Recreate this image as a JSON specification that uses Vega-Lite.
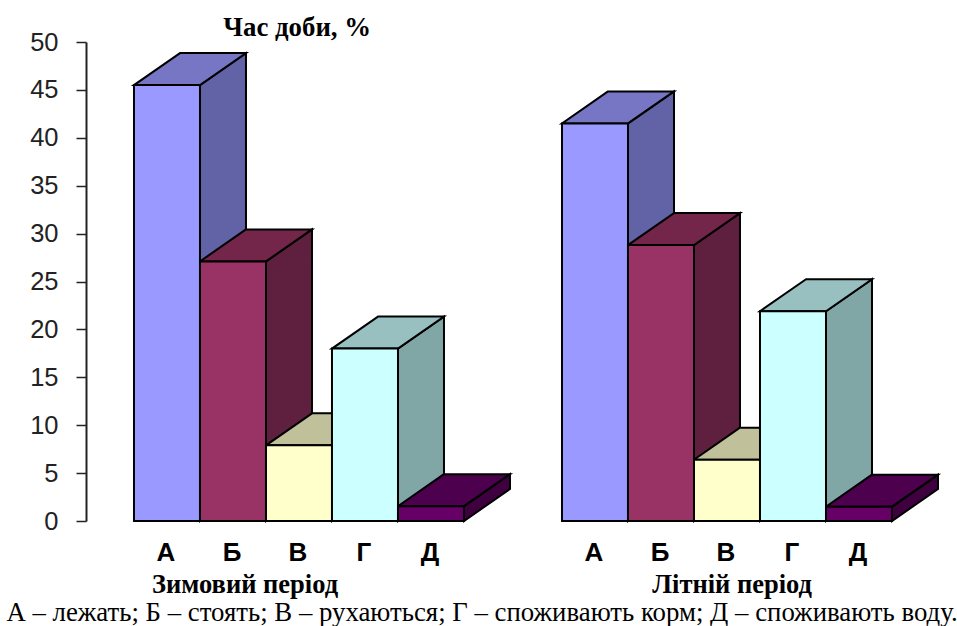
{"$schema":"https://vega.github.io/schema/vega-lite/v6.json","width":871,"height":479,"autosize":{"type":"none"},"padding":{"left":86,"top":42,"right":0,"bottom":105},"background":"white","data":{"values":[
{"period":"Зимовий період","cat":"А","value":45.5},{"period":"Зимовий період","cat":"Б","value":27.1},{"period":"Зимовий період","cat":"В","value":7.9},{"period":"Зимовий період","cat":"Г","value":18},{"period":"Зимовий період","cat":"Д","value":1.55},
{"period":"Літній період","cat":"А","value":41.5},{"period":"Літній період","cat":"Б","value":28.8},{"period":"Літній період","cat":"В","value":6.4},{"period":"Літній період","cat":"Г","value":21.9},{"period":"Літній період","cat":"Д","value":1.5}]},
"transform":[{"calculate":"(datum.period==='Літній період'?7.212:0.727)+indexof(['А','Б','В','Г','Д'],datum.cat)","as":"start"},{"calculate":"datum.start+1","as":"end"},{"calculate":"datum.start+0.5","as":"mid"}],
"config":{"view":{"stroke":null}},
"resolve":{"scale":{"color":"independent"}},
"layer":[
{"transform":[{"calculate":"[0,1]","as":"t"},{"flatten":["t"]},{"calculate":"datum.end+datum.t*0.697","as":"sx"},{"calculate":"datum.t*3.34","as":"lo"},{"calculate":"datum.value+datum.t*3.34","as":"hi"}],
"mark":{"type":"area","stroke":"#000","strokeWidth":2,"strokeJoin":"miter","orient":"vertical"},
"encoding":{"x":{"field":"sx","type":"quantitative","scale":{"domain":[0,13.197],"nice":false,"zero":false},"axis":null},
"y":{"field":"hi","type":"quantitative","stack":null,"scale":{"domain":[0,50],"nice":false},"axis":{"title":null,"values":[0,5,10,15,20,25,30,35,40,45,50],"grid":false,"domainColor":"#222","domainWidth":2,"tickColor":"#222","tickWidth":1.5,"tickSize":10,"labelPadding":18,"labelFont":"Liberation Sans","labelFontSize":25.5,"labelColor":"#222"}},
"y2":{"field":"lo"},
"detail":{"field":"period"},
"color":{"field":"cat","type":"nominal","legend":null,"scale":{"domain":["А","Б","В","Г","Д"],"range":["#6262A6","#5F1F3E","#A6A685","#80A6A6","#3E003E"]}}}},
{"transform":[{"calculate":"[0,1]","as":"t"},{"flatten":["t"]},{"calculate":"datum.start+datum.t*0.697","as":"xa"},{"calculate":"datum.end+datum.t*0.697","as":"xb"},{"calculate":"datum.value+datum.t*3.34","as":"yy"}],
"mark":{"type":"area","stroke":"#000","strokeWidth":2,"strokeJoin":"miter","orient":"horizontal"},
"encoding":{"x":{"field":"xa","type":"quantitative","stack":null},"x2":{"field":"xb"},"y":{"field":"yy","type":"quantitative"},
"detail":{"field":"period"},
"color":{"field":"cat","type":"nominal","legend":null,"scale":{"domain":["А","Б","В","Г","Д"],"range":["#7676C4","#732649","#C0C09A","#99C0C0","#4D004D"]}}}},
{"mark":{"type":"rect","stroke":"#000","strokeWidth":2},
"encoding":{"x":{"field":"start","type":"quantitative"},"x2":{"field":"end"},"y":{"field":"value","type":"quantitative"},"y2":{"datum":0},
"color":{"field":"cat","type":"nominal","legend":null,"scale":{"domain":["А","Б","В","Г","Д"],"range":["#9999FF","#993366","#FFFFCC","#CCFFFF","#660066"]}}}},
{"mark":{"type":"text","font":"Liberation Sans","fontWeight":"bold","fontSize":26,"color":"#000","dy":40,"dx":-1,"baseline":"alphabetic","align":"center"},
"encoding":{"x":{"field":"mid","type":"quantitative"},"y":{"datum":0},"text":{"field":"cat"}}},
{"data":{"values":[{"label":"Зимовий період"}]},"transform":[],"mark":{"type":"text","font":"Liberation Serif","fontWeight":"bold","fontSize":26.5,"color":"#000","dy":72,"baseline":"alphabetic","align":"center"},
"encoding":{"x":{"datum":2.41},"y":{"datum":0},"text":{"field":"label"}}},
{"data":{"values":[{"label":"Літній період"}]},"transform":[],"mark":{"type":"text","font":"Liberation Serif","fontWeight":"bold","fontSize":26.5,"color":"#000","dy":72,"baseline":"alphabetic","align":"center"},
"encoding":{"x":{"datum":9.79},"y":{"datum":0},"text":{"field":"label"}}},
{"data":{"values":[{"label":"А – лежать; Б – стоять; В – рухаються; Г – споживають корм; Д – споживають воду."}]},"transform":[],"mark":{"type":"text","font":"Liberation Serif","fontSize":26.8,"color":"#000","dy":100,"baseline":"alphabetic","align":"center"},
"encoding":{"x":{"datum":6.0},"y":{"datum":0},"text":{"field":"label"}}},
{"data":{"values":[{"label":"Час доби, %"}]},"transform":[],"mark":{"type":"text","font":"Liberation Serif","fontWeight":"bold","fontSize":26.8,"color":"#000","dy":-6,"baseline":"alphabetic","align":"center"},
"encoding":{"x":{"datum":3.2},"y":{"datum":50},"text":{"field":"label"}}}
]}
